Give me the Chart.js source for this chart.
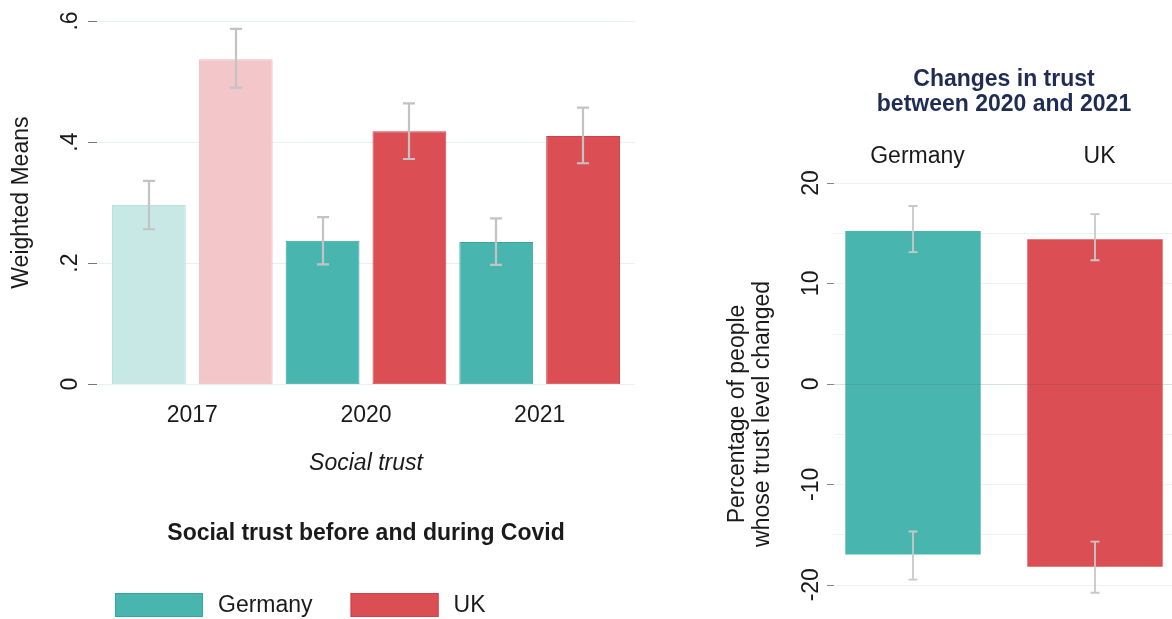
<!DOCTYPE html>
<html>
<head>
<meta charset="utf-8">
<title>Social trust before and during Covid</title>
<script src="https://cdn.jsdelivr.net/npm/chart.js@4.4.1/dist/chart.umd.min.js"></script>
<style>
    html, body { margin: 0; padding: 0; background: #fff; overflow: hidden; }
    #page { position: relative; width: 1172px; height: 619px; overflow: hidden; }
    #leftWrap { position: absolute; left: 0; top: 0; width: 650px; height: 619px; }
    #rightWrap { position: absolute; left: 650px; top: 0; width: 540px; height: 665px; }
</style>
</head>
<body>
<div id="page">
    <div id="leftWrap"><canvas id="trustChart"></canvas></div>
    <div id="rightWrap"><canvas id="changeChart"></canvas></div>
</div>
<script>
// Weighted means of social trust, by survey wave
const years = ['2017', '2020', '2021'];
const germanyMeans = [0.296, 0.237, 0.235];
const germanyLow = [0.256, 0.198, 0.197];
const germanyHigh = [0.336, 0.276, 0.274];
const ukMeans = [0.537, 0.418, 0.410];
const ukLow = [0.490, 0.372, 0.365];
const ukHigh = [0.587, 0.464, 0.457];

// Share of people whose trust went up / down between 2020 and 2021
const countries = ['Germany', 'UK'];
const increased = [15.3, 14.5];
const increasedLow = [13.1, 12.3];
const increasedHigh = [17.7, 16.9];
const decreased = [-17.1, -18.3];
const decreasedLow = [-19.5, -20.8];
const decreasedHigh = [-14.7, -15.7];

const TEAL = '#48b5ae';
const TEAL_LIGHT = '#c8e8e6';
const RED = '#db4f54';
const RED_LIGHT = '#f3c6c9';
const INK = '#1a1a1a';
const FONT = "'Liberation Sans', Arial, sans-serif";

Chart.defaults.font.family = FONT;
Chart.defaults.font.size = 23;
Chart.defaults.color = INK;

// horizontal grid + short tick marks, drawn from the y scale
const gridPlugin = {
    id: 'stataGrid',
    beforeDatasetsDraw(chart, args, opts) {
        const { ctx, chartArea: area, scales: { y } } = chart;
        const x0 = area.left + opts.from;
        ctx.save();
        ctx.lineWidth = 1;
        y.ticks.forEach(t => {
            if (opts.every && Math.abs(t.value % opts.every) > 1e-9) return;
            const py = Math.round(y.getPixelForValue(t.value)) + 0.5;
            ctx.strokeStyle = opts.color;
            ctx.beginPath();
            ctx.moveTo(x0, py);
            ctx.lineTo(area.right + opts.to, py);
            ctx.stroke();
            if (t.label !== '') {
                ctx.strokeStyle = opts.tickColor;
                ctx.beginPath();
                ctx.moveTo(x0 - opts.tickLength, py);
                ctx.lineTo(x0, py);
                ctx.stroke();
            }
        });
        ctx.restore();
    },
    afterDatasetsDraw(chart, args, opts) {
        if (!opts.zeroLine) return;
        const { ctx, chartArea: area, scales: { y } } = chart;
        const py = Math.round(y.getPixelForValue(0)) + 0.5;
        ctx.save();
        ctx.strokeStyle = opts.zeroLine;
        ctx.lineWidth = 1;
        ctx.beginPath();
        ctx.moveTo(area.left + opts.from, py);
        ctx.lineTo(area.right + opts.to, py);
        ctx.stroke();
        ctx.restore();
    }
};

// confidence intervals: dataset.intervals[j] is a list of [low, high] pairs for bar j
const errorBarPlugin = {
    id: 'errorBars',
    afterDatasetsDraw(chart, args, opts) {
        const { ctx, scales: { y } } = chart;
        ctx.save();
        ctx.strokeStyle = opts.color;
        ctx.lineWidth = opts.width;
        chart.data.datasets.forEach((ds, i) => {
            const meta = chart.getDatasetMeta(i);
            meta.data.forEach((bar, j) => {
                const x = Math.round(bar.x);
                ds.intervals[j].forEach(([lo, hi]) => {
                    const top = y.getPixelForValue(hi);
                    const bottom = y.getPixelForValue(lo);
                    ctx.beginPath();
                    ctx.moveTo(x, top);
                    ctx.lineTo(x, bottom);
                    ctx.moveTo(x - opts.cap, top);
                    ctx.lineTo(x + opts.cap, top);
                    ctx.moveTo(x - opts.cap, bottom);
                    ctx.lineTo(x + opts.cap, bottom);
                    ctx.stroke();
                });
            });
        });
        ctx.restore();
    }
};

// wide-box legend under the left panel
const boxLegendPlugin = {
    id: 'boxLegend',
    afterDraw(chart, args, opts) {
        const { ctx, chartArea: area } = chart;
        let x = area.left + opts.offset;
        ctx.save();
        ctx.font = `23px ${FONT}`;
        ctx.textBaseline = 'middle';
        chart.data.datasets.forEach(ds => {
            ctx.fillStyle = ds.legendColor;
            ctx.fillRect(x, opts.y - opts.boxHeight / 2, opts.boxWidth, opts.boxHeight);
            ctx.strokeStyle = ds.legendBorder;
            ctx.lineWidth = 1;
            ctx.strokeRect(x + 0.5, opts.y - opts.boxHeight / 2 + 0.5, opts.boxWidth - 1, opts.boxHeight - 1);
            x += opts.boxWidth + opts.gap;
            ctx.fillStyle = INK;
            ctx.fillText(ds.label, x, opts.y + 1);
            x += ctx.measureText(ds.label).width + opts.spacing;
        });
        ctx.restore();
    }
};

function fixWidth(width) {
    return scale => {
        scale.width = width;
        scale.paddingTop = 0;
        scale.paddingBottom = 0;
    };
}

function noSidePadding(scale) {
    scale.paddingLeft = 0;
    scale.paddingRight = 0;
}

function meansLabel(v) {
    return v === 0 ? '0' : Number(v).toFixed(1).replace(/^0/, '');
}

new Chart(document.getElementById('trustChart'), {
    type: 'bar',
    data: {
        labels: years,
        datasets: [{
            label: 'Germany',
            data: germanyMeans,
            intervals: germanyMeans.map((_, i) => [[germanyLow[i], germanyHigh[i]]]),
            backgroundColor: [TEAL_LIGHT, TEAL, TEAL],
            borderColor: ['#b9e1de', '#34a69e', '#34a69e'],
            legendColor: TEAL,
            legendBorder: '#34a69e',
            borderWidth: 1,
            borderSkipped: false
        }, {
            label: 'UK',
            data: ukMeans,
            intervals: ukMeans.map((_, i) => [[ukLow[i], ukHigh[i]]]),
            backgroundColor: [RED_LIGHT, RED, RED],
            borderColor: ['#f0b9bd', '#d3404a', '#d3404a'],
            legendColor: RED,
            legendBorder: '#d3404a',
            borderWidth: 1,
            borderSkipped: false
        }]
    },
    options: {
        responsive: true,
        maintainAspectRatio: false,
        animation: false,
        categoryPercentage: 1,
        barPercentage: 0.85,
        layout: { padding: { top: 21, right: 23.5, bottom: 72, left: 0 } },
        plugins: {
            legend: { display: false },
            tooltip: { enabled: false },
            title: {
                display: true,
                position: 'bottom',
                fullSize: false,
                text: 'Social trust before and during Covid',
                font: { size: 23, weight: 'bold' },
                color: INK,
                padding: { top: 42, bottom: 0 }
            },
            stataGrid: { from: -8.5, to: 8.5, color: '#e8f0f2', tickColor: '#777', tickLength: 9 },
            errorBars: { color: '#c3c3c3', width: 2.2, cap: 6 },
            boxLegend: { offset: 9.5, y: 605, boxWidth: 88, boxHeight: 24, gap: 15, spacing: 38 }
        },
        scales: {
            x: {
                grid: { display: false, drawTicks: false },
                border: { display: false },
                ticks: { padding: 18, color: INK },
                title: {
                    display: true,
                    text: 'Social trust',
                    font: { size: 23, style: 'italic' },
                    color: INK,
                    padding: { top: 2, bottom: 0 }
                },
                afterFit: noSidePadding
            },
            y: {
                min: 0,
                max: 0.6,
                grid: { display: false, drawTicks: false },
                border: { display: false },
                ticks: {
                    stepSize: 0.2,
                    minRotation: 90,
                    maxRotation: 90,
                    crossAlign: 'center',
                    padding: 25,
                    color: INK,
                    callback: meansLabel
                },
                title: {
                    display: true,
                    text: 'Weighted Means',
                    color: INK,
                    padding: { top: 8, bottom: 0 }
                },
                afterFit: fixWidth(105.5)
            }
        }
    },
    plugins: [gridPlugin, errorBarPlugin, boxLegendPlugin]
});

// one floating bar per country, from the share that lost trust up to the share that gained it
new Chart(document.getElementById('changeChart'), {
    type: 'bar',
    data: {
        labels: countries,
        datasets: [{
            label: 'Change in trust',
            data: countries.map((_, i) => [decreased[i], increased[i]]),
            intervals: countries.map((_, i) => [
                [increasedLow[i], increasedHigh[i]],
                [decreasedLow[i], decreasedHigh[i]]
            ]),
            backgroundColor: [TEAL, RED],
            borderColor: 'rgba(255,255,255,0.45)',
            borderWidth: 1,
            borderSkipped: false
        }]
    },
    options: {
        responsive: true,
        maintainAspectRatio: false,
        animation: false,
        categoryPercentage: 1,
        barPercentage: 0.755,
        layout: { padding: { top: 0, right: 4, bottom: 20, left: 0 } },
        plugins: {
            legend: { display: false },
            tooltip: { enabled: false },
            title: {
                display: true,
                position: 'top',
                fullSize: false,
                text: ['Changes in trust', 'between 2020 and 2021'],
                font: { size: 23, weight: 'bold', lineHeight: 1.05 },
                color: '#1f2d55',
                padding: { top: 68, bottom: 15 }
            },
            stataGrid: { from: 12, to: 0, every: 5, color: '#edf2f2', tickColor: '#888', tickLength: 7, zeroLine: 'rgba(0,50,50,0.09)' },
            errorBars: { color: '#c8c8c8', width: 1.8, cap: 4.5 }
        },
        scales: {
            x: {
                position: 'top',
                grid: { display: false, drawTicks: false },
                border: { display: false },
                ticks: { padding: 12, labelOffset: 4.5, color: INK },
                afterFit: noSidePadding
            },
            y: {
                min: -26,
                max: 20,
                grid: { display: false, drawTicks: false },
                border: { display: false },
                ticks: {
                    stepSize: 5,
                    minRotation: 90,
                    maxRotation: 90,
                    crossAlign: 'center',
                    padding: -6.5,
                    color: INK,
                    callback: v => (v % 10 === 0 ? String(v) : '')
                },
                title: {
                    display: true,
                    text: ['Percentage of people', 'whose trust level changed'],
                    font: { size: 23, lineHeight: 1.1 },
                    color: INK,
                    padding: { top: 75, bottom: 0 }
                },
                afterFit: fixWidth(172)
            }
        }
    },
    plugins: [gridPlugin, errorBarPlugin]
});
</script>
</body>
</html>
